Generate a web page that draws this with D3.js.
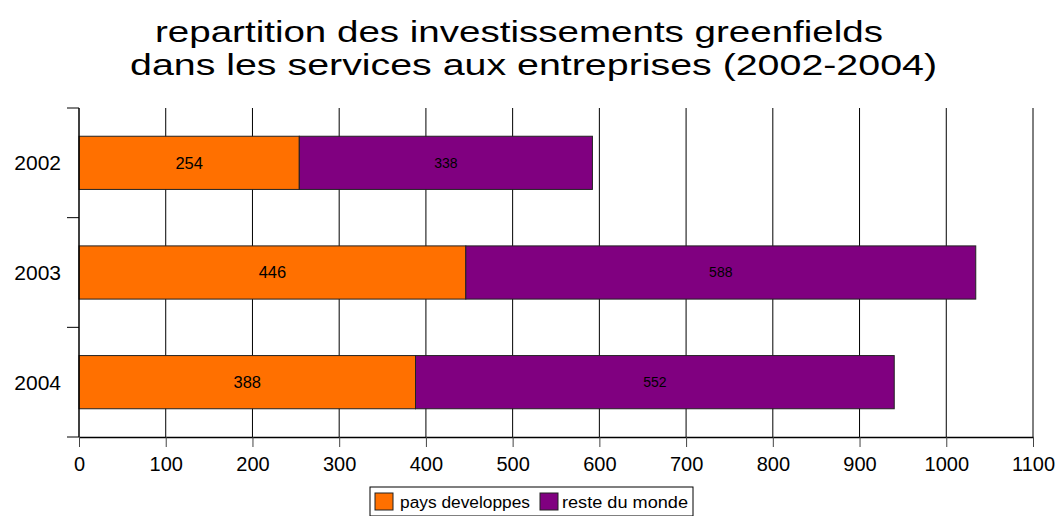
<!DOCTYPE html>
<html>
<head>
<meta charset="utf-8">
<script src="https://cdn.jsdelivr.net/npm/d3@7"></script>
<style>
  body { margin: 0; background: white; }
  svg { font-family: "Liberation Sans", Arial, sans-serif; display: block; }
</style>
</head>
<body>
<div id="chart"></div>
<script>
// data
const years = ["2002", "2003", "2004"];
const pays_developpes = [254, 446, 388];
const reste_du_monde = [338, 588, 552];
const series_names = ["pays developpes", "reste du monde"];
const series_colors = ["#ff7000", "#800080"];
const x_ticks = [0, 100, 200, 300, 400, 500, 600, 700, 800, 900, 1000, 1100];

const width = 1056, height = 516;
const margin = {left: 79, right: 23, top: 108, bottom: 79};

const svg = d3.select("#chart")
  .append("svg")
  .attr("width", width)
  .attr("height", height)
;

svg.append("rect")
  .attr("width", "100%")
  .attr("height", "100%")
  .attr("fill", "white")
;

// title (the original rendering is stretched sideways, hence textLength)
const title_lines = [
  {text: "repartition des investissements greenfields", x: 155, y: 42, len: 728},
  {text: "dans les services aux entreprises (2002-2004)", x: 130, y: 75, len: 807}
];
svg.append("g")
  .selectAll("text")
  .data(title_lines)
  .enter()
  .append("text")
  .attr("x", d => d.x)
  .attr("y", d => d.y)
  .attr("font-size", 30)
  .attr("fill", "black")
  .attr("textLength", d => d.len)
  .attr("lengthAdjust", "spacingAndGlyphs")
  .text(d => d.text)
;

const x = d3.scaleLinear()
  .domain([0, 1100])
  .range([margin.left, width - margin.right]);

const y = d3.scaleBand()
  .domain(years)
  .range([margin.top, height - margin.bottom])
  .paddingInner(0.515)
  .paddingOuter(0.2575);

// vertical gridlines
svg.append("g")
  .selectAll("line")
  .data(x_ticks.slice(1))
  .enter()
  .append("line")
  .attr("x1", d => x(d))
  .attr("x2", d => x(d))
  .attr("y1", margin.top)
  .attr("y2", height - margin.bottom)
  .attr("stroke", "black")
  .attr("stroke-width", 1)
;

// stacked bars
const rows = years.map((yr, i) => ({year: yr, values: [pays_developpes[i], reste_du_monde[i]]}));

rows.forEach(r => {
  let start = 0;
  r.values.forEach((v, j) => {
    const g = svg.append("g");
    g.append("rect")
      .attr("x", x(start))
      .attr("y", y(r.year))
      .attr("width", x(start + v) - x(start))
      .attr("height", y.bandwidth())
      .attr("fill", series_colors[j])
      .attr("stroke", "#222")
      .attr("stroke-width", 1)
    ;
    g.append("text")
      .attr("x", (x(start) + x(start + v)) / 2)
      .attr("y", y(r.year) + y.bandwidth() / 2)
      .attr("dy", "0.35em")
      .attr("text-anchor", "middle")
      .attr("font-size", j == 0 ? 16.5 : 14)
      .attr("fill", "black")
      .text(v)
    ;
    start += v;
  });
});

// x axis
const xAxis = svg.append("g")
  .attr("transform", "translate(0," + (height - margin.bottom) + ")")
  .call(d3.axisBottom(x).tickValues(x_ticks).tickFormat(d3.format("d")).tickSize(10).tickPadding(10).tickSizeOuter(0))
;
xAxis.selectAll("text").attr("font-size", 20).attr("fill", "black").attr("font-family", "Liberation Sans, Arial, sans-serif");
xAxis.select(".domain").attr("stroke", "black").attr("stroke-width", 1.5);
xAxis.selectAll(".tick line").attr("stroke", "#444");

// y axis
const yAxis = svg.append("g");
yAxis.append("line")
  .attr("x1", margin.left).attr("x2", margin.left)
  .attr("y1", margin.top).attr("y2", height - margin.bottom)
  .attr("stroke", "black").attr("stroke-width", 1.5);

yAxis.selectAll("line.tick")
  .data(d3.range(years.length + 1))
  .enter()
  .append("line")
  .attr("class", "tick")
  .attr("x1", margin.left - 12).attr("x2", margin.left)
  .attr("y1", d => margin.top + d * (height - margin.bottom - margin.top) / years.length)
  .attr("y2", d => margin.top + d * (height - margin.bottom - margin.top) / years.length)
  .attr("stroke", "black").attr("stroke-width", 1)
;
yAxis.selectAll("text")
  .data(years)
  .enter()
  .append("text")
  .attr("x", margin.left - 18)
  .attr("y", d => y(d) + y.bandwidth() / 2)
  .attr("dy", "0.35em")
  .attr("text-anchor", "end")
  .attr("font-size", 21)
  .attr("fill", "black")
  .text(d => d)
;

// legend
const legend = svg.append("g").attr("transform", "translate(370,487)");
legend.append("rect")
  .attr("width", 323).attr("height", 29)
  .attr("fill", "white").attr("stroke", "black").attr("stroke-width", 1);
const lx = [5, 170];
const llen = [130, 126];
series_names.forEach((name, i) => {
  legend.append("rect")
    .attr("x", lx[i]).attr("y", 6)
    .attr("width", 18).attr("height", 17)
    .attr("fill", series_colors[i]).attr("stroke", "#222");
  legend.append("text")
    .attr("x", lx[i] + 25 - i * 3).attr("y", 21)
    .attr("font-size", 16)
    .attr("fill", "black")
    .attr("textLength", llen[i])
    .attr("lengthAdjust", "spacingAndGlyphs")
    .text(name);
});
</script>
</body>
</html>
